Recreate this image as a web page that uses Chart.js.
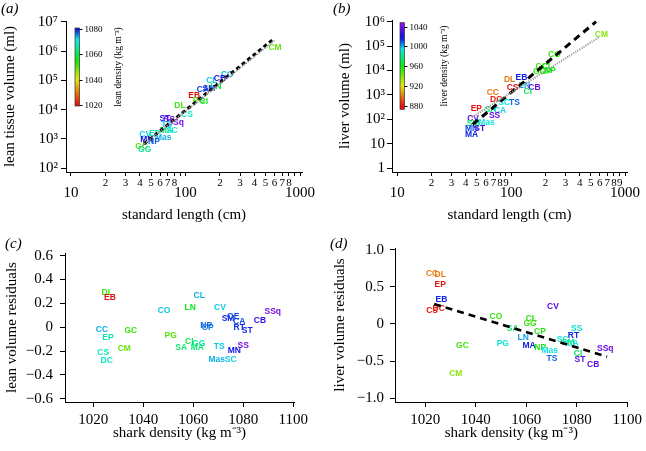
<!DOCTYPE html>
<html>
<head>
<meta charset="utf-8">
<title>Shark density</title>
<script src="https://cdn.jsdelivr.net/npm/chart.js@4.4.1/dist/chart.umd.min.js"></script>
<style>
  body { margin: 0; background: #fff; }
  #fig { position: relative; width: 646px; height: 451px; overflow: hidden; }
  #fig canvas { position: absolute; }
  .tag { position: absolute; font: italic 15px "Liberation Serif", serif; line-height: 15px; color: #000; }
</style>
</head>
<body>
<div id="fig">
  <canvas id="chartA" width="323" height="225" style="left:0;top:0"></canvas>
  <canvas id="chartB" width="323" height="225" style="left:323px;top:0"></canvas>
  <canvas id="chartC" width="323" height="226" style="left:0;top:225px"></canvas>
  <canvas id="chartD" width="323" height="226" style="left:323px;top:225px"></canvas>
  <div class="tag" style="left:1px;top:1px">(a)</div>
  <div class="tag" style="left:333px;top:1px">(b)</div>
  <div class="tag" style="left:5px;top:236px">(c)</div>
  <div class="tag" style="left:330px;top:236px">(d)</div>
</div>
<script>
// Panel (a): volumen de tejido magro vs longitud estándar
const aCodes   = ['CM','CO','CB','CL','LN','CA','SM','EB','PG','CI','DL','CS','ST','SS','SSq','TS','MA','SC','CV','EP','Mas','MN','NP','GC','GG'];
const aLength  = [605, 232, 200, 170, 185, 142, 160, 119, 131, 145, 89.5, 103, 66, 72, 82, 68.5, 68, 76, 44.5, 54, 64, 46, 53, 41.5, 44];
const aVolume  = [1.35e6, 1.6e5, 1.12e5, 1.0e5, 6.2e4, 4.7e4, 5.4e4, 3.0e4, 2.1e4, 1.9e4, 1.35e4, 6.5e3, 5.1e3, 4.5e3, 3.6e3, 3.0e3, 2.0e3, 1.9e3, 1.37e3, 1.57e3, 1.15e3, 930, 820, 560, 430];
const aDensity = [1049, 1074, 1081, 1073, 1057, 1078, 1079, 1020, 1050, 1058, 1052, 1069, 1082, 1090, 1090, 1073, 1063, 1071, 1073, 1068, 1074, 1080, 1077, 1050, 1066];
const aFitX = [43.4, 585];
const aFitY = [676, 2.53e6];
const aIsoX = [42, 600];
const aIsoY = [600, 2.3e6];

// Panel (b): volumen del hígado vs longitud estándar
const bCodes   = ['CM','CO','GC','CL','GG','CP','NP','EB','DL','LN','CS','CB','CI','CC','DC','SC','TS','EP','SA','CA','SS','CV','SM','Mas','MN','ST','MA'];
const bLength  = [620, 240, 186, 208, 178, 200, 220, 123, 97, 131, 103, 160, 140, 69, 74, 87, 107, 49.5, 66, 80, 71.6, 46.3, 46.3, 60.7, 44.9, 53, 44.9];
const bVolume  = [2.9e5, 4.4e4, 1.45e4, 1.5e4, 9.4e3, 9.2e3, 1.0e4, 5.3e3, 4.1e3, 2.3e3, 1.9e3, 1.9e3, 1.4e3, 1.3e3, 630, 500, 490, 270, 250, 235, 138, 104, 65, 73, 43, 40, 24.6];
const bDensity = [937, 953, 952, 956, 953, 957, 963, 1015, 900, 1002, 880, 1036, 972, 900, 882, 995, 1008, 880, 977, 997, 1036, 1036, 975, 995, 1012, 1030, 1015];
const bFitX = [46, 557];
const bFitY = [62, 1.0e6];
const bIsoX = [45, 600];
const bIsoY = [120, 2.4e5];

// Panel (c): residuos del volumen magro vs densidad del tiburón
const cCodes   = ['DL','EB','CL','CO','LN','CV','SSq','SM','OE','CB','CA','NP','CP','RT','ST','CC','GC','EP','PG','CI','GG','SA','MA','TS','SS','MN','CS','CM','DC','Mas','SC'];
const cShark   = [1025.6, 1026.7, 1062.4, 1048.3, 1058.8, 1070.7, 1091.8, 1073.9, 1076, 1086.7, 1078.4, 1065.2, 1065.8, 1078.4, 1081.6, 1023.5, 1035, 1025.9, 1051, 1058.4, 1062.2, 1055.2, 1061.6, 1070.4, 1080, 1076.4, 1024, 1032.4, 1025.4, 1069.4, 1075];
const cResid   = [0.293, 0.252, 0.262, 0.139, 0.162, 0.162, 0.131, 0.07, 0.089, 0.056, 0.047, 0.015, 0.0, -0.008, -0.028, -0.022, -0.031, -0.089, -0.067, -0.125, -0.134, -0.173, -0.173, -0.162, -0.151, -0.198, -0.212, -0.176, -0.282, -0.273, -0.273];
const cDensity = [1052, 1020, 1074, 1073, 1056, 1073, 1090, 1079, 1078, 1083, 1078, 1077, 1076, 1079, 1079, 1074, 1052, 1068, 1050, 1060, 1066, 1063, 1063, 1073, 1090, 1080, 1068, 1049, 1070, 1074, 1073];

// Panel (d): residuos del volumen del hígado vs densidad del tiburón
const dCodes   = ['CC','DL','EP','EB','CS','DC','CV','CO','CL','GG','SA','CP','LN','PG','GC','MA','NP','Mas','TS','SS','RT','SC','SM','CA','CI','ST','CB','SSq','CM'];
const dShark   = [1022.7, 1025.9, 1025.9, 1026.4, 1022.7, 1025.3, 1070.6, 1048, 1062, 1061.5, 1054.6, 1065.4, 1058.8, 1050.7, 1034.7, 1061.1, 1065.5, 1069.3, 1070.2, 1080, 1078.7, 1074.4, 1076.6, 1078.3, 1080.5, 1081.3, 1086.5, 1091.3, 1032.1];
const dResid   = [0.674, 0.67, 0.53, 0.329, 0.185, 0.212, 0.24, 0.105, 0.078, 0.0, -0.06, -0.1, -0.19, -0.26, -0.29, -0.285, -0.32, -0.356, -0.467, -0.06, -0.158, -0.217, -0.25, -0.26, -0.4, -0.486, -0.553, -0.33, -0.664];
const dDensity = [900, 900, 882, 1015, 880, 883, 1036, 952, 955, 952, 975, 956, 1002, 993, 950, 1015, 960, 995, 1008, 990, 1015, 992, 978, 995, 972, 1034, 1037, 1037, 937];
const dFitX = [1023.5, 1092];
const dFitY = [0.27, -0.44];

// Marcas de los ejes
const lengthTicks = [10, 20, 30, 40, 50, 60, 70, 80, 90, 100, 200, 300, 400, 500, 600, 700, 800, 900, 1000];
const lengthMajor = [10, 100, 1000];
const aLengthText = ['10','2','3','4','5','6','7','8','','100','2','3','4','5','6','7','8','','1000'];
const bLengthText = ['10','2','3','4','5','6','7','8','9','100','2','3','4','5','6','7','8','9','1000'];
const aVolTicks = [1e2, 1e3, 1e4, 1e5, 1e6, 1e7];
const aVolText  = ['10²', '10³', '10⁴', '10⁵', '10⁶', '10⁷'];
const bVolTicks = [1, 10, 1e2, 1e3, 1e4, 1e5, 1e6];
const bVolText  = ['1', '10', '10²', '10³', '10⁴', '10⁵', '10⁶'];
const sharkTicks = [1020, 1040, 1060, 1080, 1100];
const cResidTicks = [-0.6, -0.4, -0.2, 0, 0.2, 0.4, 0.6];
const cResidText  = ['−0.6', '−0.4', '−0.2', '0', '0.2', '0.4', '0.6'];
const dResidTicks = [-1, -0.5, 0, 0.5, 1];
const dResidText  = ['−1.0', '−0.5', '0', '0.5', '1.0'];
const leanBarTicks  = [1020, 1040, 1060, 1080];
const liverBarTicks = [880, 920, 960, 1000, 1040];

// Escalas de color: tono HSL según densidad
const colorMaps = {
  lean:  [[1020, 0], [1040, 60], [1055, 120], [1072, 180], [1080, 240], [1092, 275]],
  liver: [[880, 0], [920, 60], [960, 120], [995, 180], [1015, 235], [1045, 275]]
};

function densityColor(value, mapName) {
  const stops = colorMaps[mapName];
  let hue = value <= stops[0][0] ? stops[0][1] : stops[stops.length - 1][1];
  for (let i = 1; i < stops.length; i++) {
    if (value >= stops[i - 1][0] && value <= stops[i][0]) {
      const t = (value - stops[i - 1][0]) / (stops[i][0] - stops[i - 1][0]);
      hue = stops[i - 1][1] + t * (stops[i][1] - stops[i - 1][1]);
      break;
    }
  }
  return `hsl(${hue.toFixed(1)}, 88%, 48%)`;
}

// Etiquetas de especie en lugar de puntos
const codeLabels = {
  id: 'codeLabels',
  beforeDatasetsDraw(chart) {
    const ds = chart.data.datasets[0];
    const meta = chart.getDatasetMeta(0);
    const ctx = chart.ctx;
    ctx.save();
    ctx.font = 'bold 8.5px "Liberation Sans", Arial, sans-serif';
    ctx.textAlign = 'center';
    ctx.textBaseline = 'middle';
    meta.data.forEach((pt, i) => {
      ctx.fillStyle = densityColor(ds.colorValues[i], ds.colorMap);
      ctx.fillText(ds.codes[i], pt.x, pt.y);
    });
    ctx.restore();
  }
};

// Barra de color con su escala
const colorBar = {
  id: 'colorBar',
  afterDraw(chart, args, o) {
    const ctx = chart.ctx;
    const yOf = v => o.bottom - (v - o.min) / (o.max - o.min) * (o.bottom - o.top);
    const grad = ctx.createLinearGradient(0, o.bottom, 0, o.top);
    for (let k = 0; k <= 40; k++) {
      grad.addColorStop(k / 40, densityColor(o.min + (o.max - o.min) * k / 40, o.map));
    }
    ctx.save();
    ctx.fillStyle = grad;
    ctx.fillRect(o.x, o.top, o.width, o.bottom - o.top);
    ctx.strokeStyle = '#333';
    ctx.lineWidth = 0.7;
    ctx.strokeRect(o.x, o.top, o.width, o.bottom - o.top);
    ctx.fillStyle = '#000';
    ctx.strokeStyle = '#000';
    ctx.lineWidth = 1;
    ctx.font = '9px "Liberation Serif", serif';
    ctx.textAlign = 'left';
    ctx.textBaseline = 'middle';
    o.ticks.forEach(t => {
      const y = Math.round(yOf(t)) + 0.5;
      ctx.beginPath();
      ctx.moveTo(o.x + o.width, y);
      ctx.lineTo(o.x + o.width + 3, y);
      ctx.stroke();
      ctx.fillText(String(t), o.x + o.width + 5, y);
    });
    ctx.translate(o.titleX, (o.top + o.bottom) / 2);
    ctx.rotate(-Math.PI / 2);
    ctx.textAlign = 'center';
    ctx.font = '9.5px "Liberation Serif", serif';
    ctx.fillText(o.title, 0, 0);
    ctx.restore();
  }
};

const serif = (size, lineHeight = 1.2) => ({ family: '"Liberation Serif", serif', size, lineHeight });

function axis(o) {
  return {
    type: o.type,
    min: o.min,
    max: o.max,
    afterBuildTicks: s => { s.ticks = o.ticks.map(v => ({ value: v })); },
    afterFit: s => {
      if (o.width) s.width = o.width;
      if (o.height) s.height = o.height;
    },
    grid: { drawOnChartArea: false, color: '#000', lineWidth: 1, tickLength: o.tickLength || 5 },
    border: { color: '#000', width: 1 },
    ticks: {
      autoSkip: false,
      maxRotation: 0,
      color: '#000',
      padding: o.padding,
      font: o.font || serif(15),
      callback: o.callback || ((v, i) => o.labels[i])
    },
    title: { display: true, text: o.title, color: '#000', font: serif(15), padding: o.titlePadding }
  };
}

// Eje de longitud: números menores arriba, potencias de 10 en una segunda línea
function lengthAxis(min, max, labels) {
  return axis({
    type: 'logarithmic', min, max, ticks: lengthTicks, height: 53, tickLength: 4, padding: 1,
    font: c => (c.tick && lengthMajor.includes(c.tick.value)) ? serif(15, 0.71) : serif(11, 1.04),
    callback: (v, i) => lengthMajor.includes(v) ? ['', labels[i]] : labels[i],
    title: 'standard length (cm)', titlePadding: { top: 0, bottom: 1 }
  });
}

function pts(xs, ys) {
  return xs.map((x, i) => ({ x, y: ys[i] }));
}

function baseOptions(padding, scales, extraPlugins) {
  return {
    responsive: false,
    animation: false,
    events: [],
    layout: { padding },
    scales,
    plugins: Object.assign({ legend: { display: false }, tooltip: { enabled: false } }, extraPlugins || {})
  };
}

function labelSet(xs, ys, codes, colorValues, colorMap) {
  return { type: 'scatter', data: pts(xs, ys), pointRadius: 0, codes, colorValues, colorMap };
}

function lineSet(xs, ys, color, width, dash) {
  return { type: 'line', data: pts(xs, ys), borderColor: color, borderWidth: width, borderDash: dash, pointRadius: 0, fill: false };
}

// (a)
new Chart(document.getElementById('chartA'), {
  type: 'scatter',
  data: { datasets: [
    labelSet(aLength, aVolume, aCodes, aDensity, 'lean'),
    lineSet(aIsoX, aIsoY, '#9a9a9a', 2, [1.2, 1.2]),
    lineSet(aFitX, aFitY, '#000', 3, [4, 3])
  ] },
  options: baseOptions({ left: 0, top: 21, right: 21, bottom: 0 }, {
    x: lengthAxis(9.05, 1041, aLengthText),
    y: axis({ type: 'logarithmic', min: 74.8, max: 1.057e7, ticks: aVolTicks, labels: aVolText, width: 66, padding: 3,
              title: 'lean tissue volume (ml)', titlePadding: { top: 1, bottom: 0 } })
  }, { colorBar: { map: 'lean', min: 1019, max: 1081, ticks: leanBarTicks, x: 75, width: 4.5, top: 28, bottom: 106,
                   title: 'lean density (kg m⁻³)', titleX: 118 } }),
  plugins: [codeLabels, colorBar]
});

// (b)
new Chart(document.getElementById('chartB'), {
  type: 'scatter',
  data: { datasets: [
    labelSet(bLength, bVolume, bCodes, bDensity, 'liver'),
    lineSet(bIsoX, bIsoY, '#9a9a9a', 2, [1.2, 1.2]),
    lineSet(bFitX, bFitY, '#000', 3, [7, 5])
  ] },
  options: baseOptions({ left: 0, top: 20, right: 19, bottom: 0 }, {
    x: lengthAxis(8.99, 1041, bLengthText),
    y: axis({ type: 'logarithmic', min: 0.706, max: 1.17e6, ticks: bVolTicks, labels: bVolText, width: 69, padding: 2,
              title: 'liver volume (ml)', titlePadding: { top: 13, bottom: 0 } })
  }, { colorBar: { map: 'liver', min: 873, max: 1048, ticks: liverBarTicks, x: 77, width: 4.5, top: 22.7, bottom: 109.3,
                   title: 'liver density (kg m⁻³)', titleX: 121 } }),
  plugins: [codeLabels, colorBar]
});

// (c)
new Chart(document.getElementById('chartC'), {
  type: 'scatter',
  data: { datasets: [labelSet(cShark, cResid, cCodes, cDensity, 'lean')] },
  options: baseOptions({ left: 0, top: 28, right: 29, bottom: 0 }, {
    x: axis({ type: 'linear', min: 1008.7, max: 1100.3, ticks: sharkTicks, labels: sharkTicks.map(String), height: 49, padding: 4,
              title: 'shark density (kg m⁻³)', titlePadding: { top: 0, bottom: 9 } }),
    y: axis({ type: 'linear', min: -0.628, max: 0.623, ticks: cResidTicks, labels: cResidText, width: 65, padding: 7,
              title: 'lean volume residuals', titlePadding: { top: 3, bottom: 0 } })
  }),
  plugins: [codeLabels]
});

// (d)
new Chart(document.getElementById('chartD'), {
  type: 'scatter',
  data: { datasets: [
    labelSet(dShark, dResid, dCodes, dDensity, 'liver'),
    lineSet(dFitX, dFitY, '#000', 2.5, [7, 5])
  ] },
  options: baseOptions({ left: 0, top: 23, right: 15, bottom: 0 }, {
    x: axis({ type: 'linear', min: 1008, max: 1100.2, ticks: sharkTicks, labels: sharkTicks.map(String), height: 49, padding: 4,
              title: 'shark density (kg m⁻³)', titlePadding: { top: 0, bottom: 9 } }),
    y: axis({ type: 'linear', min: -1.05, max: 1.023, ticks: dResidTicks, labels: dResidText, width: 72, padding: 6,
              title: 'liver volume residuals', titlePadding: { top: 8, bottom: 0 } })
  }),
  plugins: [codeLabels]
});
</script>
</body>
</html>
